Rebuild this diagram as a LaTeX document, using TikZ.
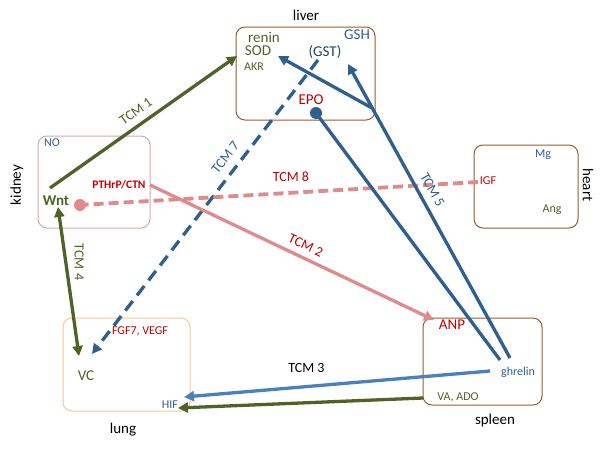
\documentclass[tikz,border=0pt]{standalone}
\usepackage{fontspec}
\setmainfont{Carlito}
\usetikzlibrary{arrows.meta}
\definecolor{grn}{HTML}{4F6228}
\definecolor{dblue}{HTML}{2F5F8F}
\definecolor{lblue}{HTML}{4A80C0}
\definecolor{pnk}{HTML}{E08A8E}
\definecolor{rd}{HTML}{C00000}
\definecolor{brn}{HTML}{9A5A2A}
\definecolor{kbox}{HTML}{D8A8A8}
\definecolor{lbox}{HTML}{F5C89A}
\begin{document}
\begin{tikzpicture}[x=1pt,y=-1pt,
  box/.style={draw=brn,line width=1pt,rounded corners=9pt},
  t/.style={inner sep=0pt,font=\fontsize{15}{15}\selectfont},
  s/.style={inner sep=0pt,font=\fontsize{12}{12}\selectfont},
  arr/.style={line width=3.3pt,-{Triangle[length=10pt,width=10pt]}},
  lab/.style={inner sep=0pt,font=\fontsize{14}{14}\selectfont}]
\useasboundingbox (0,0) rectangle (600,450);
% boxes
\draw[box] (236,27) rectangle (375,120);
\draw[box,draw=kbox] (38,136) rectangle (150,228);
\draw[box] (474,145) rectangle (578,228);
\draw[box,draw=lbox] (63,318) rectangle (190,411);
\draw[box] (423,318) rectangle (542,405);
% organ labels
\node[t] (liver) at (306,15) {liver};
\node[t,rotate=90] (kidney) at (17,185) {kidney};
\node[t,rotate=-90] (heart) at (588,185) {heart};
\node[t] (lung) at (123,430) {lung};
\node[t] (spleen) at (495,420) {spleen};
% texts
\node[t,text=grn] (renin) at (264,37) {renin};
\node[t,text=grn] (SOD) at (258,51) {SOD};
\node[s,text=grn] (AKR) at (254,67) {AKR};
\node[t,text=dblue] (GSH) at (357,35) {GSH};
\node[t,text=dblue!70!black] (GST) at (325,52) {(GST)};
\node[t,text=rd] (EPO) at (311,100) {EPO};
\node[s,text=dblue] (NO) at (52,143) {NO};
\node[s,text=rd,font=\bfseries\fontsize{11.5}{12}\selectfont] (PTH) at (119,185) {PTHrP/CTN};
\node[t,text=grn,font=\bfseries\fontsize{15}{15}\selectfont] (Wnt) at (56,201) {Wnt};
\node[s,text=dblue] (Mg) at (543,155) {Mg};
\node[s,text=rd] (IGF) at (488,181) {IGF};
\node[s,text=grn] (Ang) at (552,210) {Ang};
\node[s,text=rd] (FGF) at (140,331) {FGF7, VEGF};
\node[t,text=grn] (VC) at (86,376) {VC};
\node[s,text=dblue] (HIF) at (170,405) {HIF};
\node[t,text=rd] (ANP) at (452,325) {ANP};
\node[s,text=dblue] (ghr) at (518,372) {ghrelin};
\node[s,text=grn] (VA) at (458,397) {VA, ADO};
% coordinates
\coordinate (w1) at (50,188);
\coordinate (s1) at (237,56);
\coordinate (g7) at (318,60);
\coordinate (v7) at (92,354);
\coordinate (i8) at (478,182);
\coordinate (w8) at (80,205);
\coordinate (p2) at (150,185);
\coordinate (a2) at (434,320);
\coordinate (e5) at (316,113);
\coordinate (sp1) at (500,360);
\coordinate (sp2) at (510,358);
\coordinate (gs) at (348,64);
\coordinate (mid) at (372,108);
\coordinate (so) at (278,56);
\coordinate (gh) at (490,371);
\coordinate (hf) at (184,397);
\coordinate (va) at (423,398);
\coordinate (hf2) at (178,408);
\coordinate (wt) at (58,207);
\coordinate (vc) at (79,356);
% arrows
\draw[arr,grn] (w1) -- node[lab,sloped,above=7pt] {TCM 1} (s1);
\draw[arr,dblue,dash pattern=on 12pt off 7pt] (g7) -- node[lab,sloped,above=8pt,pos=0.36] {TCM 7} (v7);
\draw[line width=3.8pt,pnk,dash pattern=on 10pt off 5pt] (i8) -- node[lab,text=rd,above=9pt,pos=0.47] {TCM 8} (w8);
\fill[pnk] (w8) circle (6pt);
\draw[arr,pnk] (p2) -- node[lab,text=rd,sloped,above=6pt,pos=0.53] {TCM 2} (a2);
\draw[line width=3.3pt,dblue] (sp1) -- (e5);
\fill[dblue] (e5) circle (6pt);
\draw[arr,dblue] (sp2) -- node[lab,sloped,above=7pt,pos=0.55] {TCM 5} (gs);
\draw[arr,dblue] (mid) -- (so);
\draw[arr,lblue] (gh) -- node[lab,text=black,above=12pt,pos=0.6] {TCM 3} (hf);
\draw[arr,grn] (va) -- (hf2);
\draw[line width=3.3pt,grn,{Triangle[length=10pt,width=10pt]}-{Triangle[length=10pt,width=10pt]}] (wt) -- (vc);
\node[lab,text=grn,rotate=-90] (tcm4) at (79,262) {TCM 4};
\end{tikzpicture}
\end{document}
